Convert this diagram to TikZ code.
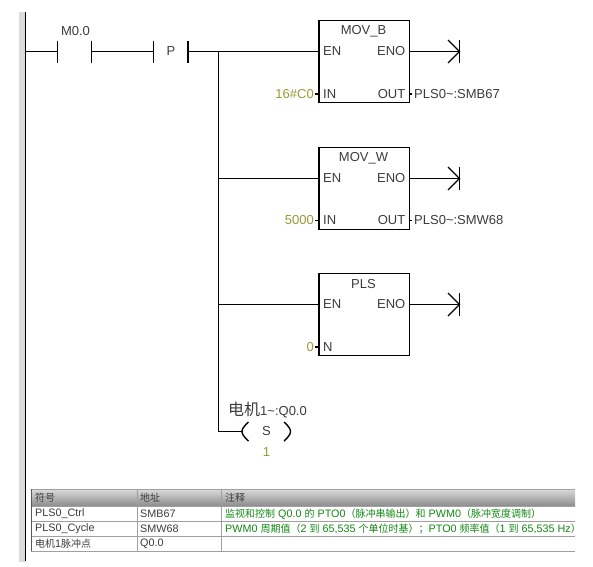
\documentclass[tikz,border=0pt]{standalone}
\usepackage{fontspec}
\setmainfont{Liberation Sans}
\newfontfamily\cjk{Noto Sans CJK SC}
\definecolor{txt}{HTML}{3C3C3C}
\definecolor{olive}{HTML}{9A9A38}
\definecolor{cmt}{HTML}{128A12}
\definecolor{grid}{HTML}{A0A0A0}
\newcommand{\zh}[1]{{\cjk\fontsize{10}{11}\selectfont #1}}
\tikzset{
  wire/.style={line width=1.2pt,black,line cap=butt},
  lab/.style={inner sep=0pt,text=txt,font=\fontsize{13}{14}\selectfont},
  const/.style={lab,text=olive},
  fbox/.style={draw=black,line width=1.2pt,minimum width=90.2pt,minimum height=81.7pt,inner sep=0pt,fill=white},
  pinwire/.style={line width=1.2pt,black},
  cell/.style={inner sep=0pt,anchor=west,text=txt,font=\fontsize{10.8}{12}\selectfont},
  note/.style={cell,text=cmt},
  gridline/.style={line width=0.9pt,grid}
}
\begin{document}
\begin{tikzpicture}[x=1pt,y=-1pt]
\useasboundingbox (0,0) rectangle (593,566);
\fill[white] (0,0) rectangle (593,566);
% power rail
\fill[black!14] (19,12) rectangle (25,562);
\coordinate (railtop) at (25.5,12);
\coordinate (railbot) at (25.5,561);
\draw[wire] (railtop) -- (railbot);
% contact M0.0
\coordinate (c1a) at (57.5,51.5); \coordinate (c1b) at (91.5,51.5);
\coordinate (pa) at (153.5,51.5); \coordinate (pb) at (188,51.5);
\coordinate (rail1) at (25.5,51.5);
\coordinate (br1) at (218.5,51.5);
\draw[wire] (57.5,40.5) -- (57.5,63); \draw[wire] (91.5,40.5) -- (91.5,63);
\draw[wire] (153.5,40.5) -- (153.5,63); \draw[wire] (188,40.5) -- (188,63);
\draw[wire] (rail1) -- (c1a) (c1b) -- (pa) (pb) -- (br1);
\node[lab] (m00) at (75.5,31) {M0.0};
\node[lab] (plab) at (171,51) {P};
% boxes
\node[fbox] (b1) at (364,61.5) {};
\node[fbox] (b2) at (364,188.5) {};
\node[fbox] (b3) at (364,314.5) {};
\node[lab] (t1) at (363.5,31) {MOV\_B};
\node[lab] (t2) at (363.5,158) {MOV\_W};
\node[lab] (t3) at (363.5,284) {PLS};
% pins
\foreach \n/\y in {1/51.5,2/178.5,3/304.5}{
  \coordinate (en\n) at (319.5,\y);
  \coordinate (eno\n) at (408.5,\y);
  \coordinate (end\n) at (459.5,\y);
  \coordinate (br\n x) at (218.5,\y);
  \node[lab,anchor=west] (enl\n) at (323,\y) {EN};
  \node[lab,anchor=east] (enol\n) at (405.5,\y) {ENO};
  \draw[wire] (br\n x) -- (en\n);
  \draw[wire] (eno\n) -- (end\n);
  \draw[wire] (459.5,\y-11.5) -- (459.5,\y+11.5);
  \draw[wire] (448,\y-11.5) -- (end\n) -- (448,\y+11.5);
}
% IN / OUT
\foreach \n/\y in {1/94,2/220.5}{
  \node[lab,anchor=west] (inl\n) at (323,\y) {IN};
  \node[lab,anchor=east] (outl\n) at (405.5,\y) {OUT};
  \draw[pinwire] (315,\y) -- (319.5,\y);
  \draw[pinwire] (408.5,\y) -- (412,\y);
}
\node[const,anchor=east] (v1) at (314,94) {16\#C0};
\node[lab,anchor=west] (o1) at (414,94) {PLS0\textasciitilde:SMB67};
\node[const,anchor=east] (v2) at (314,220.5) {5000};
\node[lab,anchor=west] (o2) at (414,220.5) {PLS0\textasciitilde:SMW68};
\node[lab,anchor=west] (nl) at (323,347) {N};
\draw[pinwire] (315,347) -- (319.5,347);
\node[const,anchor=east] (v3) at (314,347) {0};
% coil
\coordinate (coil) at (242,431.5);
\draw[wire] (br1) -- (218.5,431.5) -- (coil);
\draw[wire,line width=1.4pt] (248.5,422) .. controls (243,427) and (242,429.5) .. (242,431.5) .. controls (242,433.5) and (243,436) .. (248.5,441);
\draw[wire,line width=1.4pt] (284,422) .. controls (289.5,427) and (290.5,429.5) .. (290.5,431.5) .. controls (290.5,433.5) and (289.5,436) .. (284,441);
\node[lab] (sl) at (266.5,431) {S};
\node[const] (sv) at (266.5,452) {1};
\node[lab,anchor=west] (cn) at (228,410) {{\cjk\fontsize{16}{18}\selectfont 电机}1\textasciitilde:Q0.0};
% table
\shade[top color=black!14,bottom color=black!45] (31,489) rectangle (575,506);
\draw[gridline] (31,489) -- (575,489);
\draw[gridline] (31,506.5) -- (575,506.5);
\draw[gridline] (31,521) -- (575,521);
\draw[gridline] (31,536) -- (575,536);
\draw[gridline] (31,551) -- (575,551);
\draw[gridline] (137,489) -- (137,551);
\draw[gridline] (221,489) -- (221,551);
\draw[line width=0.9pt,black!65] (31.5,489) -- (31.5,551);
\node[cell] (h1) at (35,498) {\zh{符号}};
\node[cell] (h2) at (140,498) {\zh{地址}};
\node[cell] (h3) at (225,498) {\zh{注释}};
\node[cell] (a1) at (35,514) {PLS0\_Ctrl};
\node[cell] (a2) at (140,514) {SMB67};
\node[note] (a3) at (225,514) {\zh{监视和控制} Q0.0 \zh{的} PTO0\zh{（脉冲串输出）和} PWM0\zh{（脉冲宽度调制）}};
\node[cell] (b1c) at (35,529) {PLS0\_Cycle};
\node[cell] (b2c) at (140,529) {SMW68};
\node[note] (b3c) at (225,529) {PWM0 \zh{周期值（}2 \zh{到} 65,535 \zh{个单位时基）；}PTO0 \zh{频率值（}1 \zh{到} 65,535 Hz\zh{）}};
\node[cell] (c1c) at (35,544) {\zh{电机}1\zh{脉冲点}};
\node[cell] (c2c) at (140,544) {Q0.0};
\end{tikzpicture}
\end{document}
